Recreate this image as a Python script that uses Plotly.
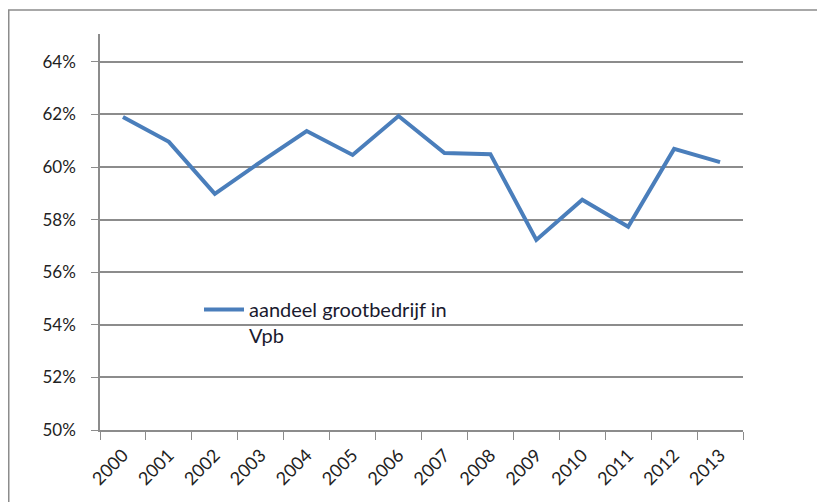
import plotly.graph_objects as go

years = ["2000", "2001", "2002", "2003", "2004", "2005", "2006",
         "2007", "2008", "2009", "2010", "2011", "2012", "2013"]
share = [61.9, 60.96, 58.98, 60.2, 61.37, 60.46, 61.94,
         60.53, 60.49, 57.23, 58.76, 57.73, 60.69, 60.19]
y_ticks = [50, 52, 54, 56, 58, 60, 62, 64]
y_labels = ["50%", "52%", "54%", "56%", "58%", "60%", "62%", "64%"]
series_name = "aandeel grootbedrijf in<br>Vpb"

# page body has an 8px margin, so the figure is drawn 8px smaller
W, H = 817, 494
L, R, T, B = 92, 82, 26, 72
pw, ph = W - L - R, H - T - B

def px_x(p):
    return (p - L) / pw

def px_y(p):
    return (H - B - p) / ph

fig = go.Figure()
fig.add_trace(go.Scatter(
    x=years, y=share, mode="lines", name=series_name,
    line=dict(color="#4A7EBB", width=4),
))

grid = "#8c8c8c"
font = "Lato, 'Open Sans', sans-serif"

fig.update_layout(
    width=W, height=H,
    margin=dict(l=L, r=R, t=T, b=B, autoexpand=False),
    paper_bgcolor="white", plot_bgcolor="white",
    font=dict(family=font, size=18, color="#222"),
    showlegend=True,
    legend=dict(
        x=px_x(191), y=px_y(282), xanchor="left", yanchor="top",
        bgcolor="rgba(0,0,0,0)", valign="top",
        font=dict(family=font, size=20, color="#1a1a2e"),
        itemwidth=40,
    ),
    xaxis=dict(
        type="category", tickson="boundaries", ticks="outside", ticklen=8,
        tickcolor=grid, showline=True, linecolor=grid, linewidth=1.5,
        showgrid=False, tickangle=-45, range=[-0.5, 13.5],
        tickfont=dict(family=font, size=18, color="#222"),
        zeroline=False, automargin=False, ticklabelstandoff=6,
    ),
    yaxis=dict(
        range=[50, 65.06], tickvals=y_ticks, ticktext=y_labels,
        ticks="outside", ticklen=7, tickcolor=grid,
        showline=True, linecolor=grid, linewidth=1.5,
        showgrid=True, gridcolor=grid, gridwidth=1.5,
        zeroline=False, automargin=False, ticklabelstandoff=12,
        tickfont=dict(family=font, size=17, color="#222"),
    ),
)

fig.add_shape(
    type="rect", xref="paper", yref="paper",
    x0=px_x(0.75), x1=px_x(840), y0=px_y(520), y1=px_y(2),
    line=dict(color="#8c8c8c", width=1.5), layer="below",
)

fig.write_html("out.html")
